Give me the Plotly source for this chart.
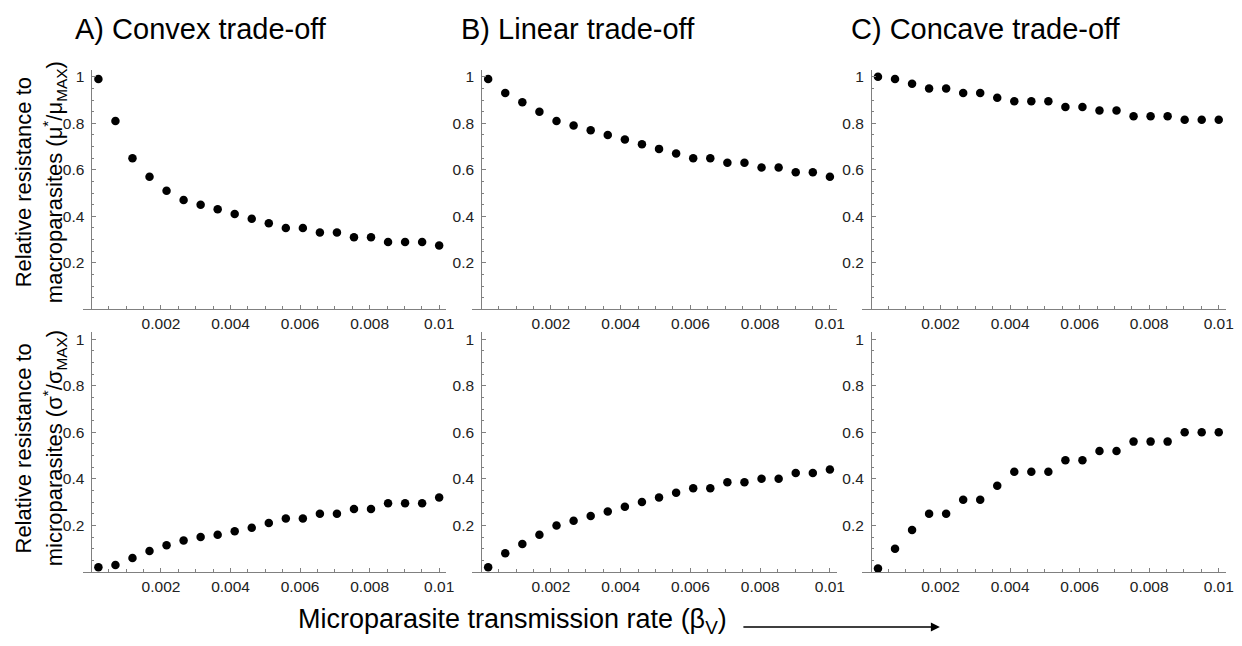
import plotly.graph_objects as go

# ---------------- data ----------------
beta_v = [0.0002, 0.00069, 0.00118, 0.00167, 0.00216, 0.00265, 0.00314, 0.00363,
          0.00412, 0.00461, 0.0051, 0.00559, 0.00608, 0.00657, 0.00706, 0.00755,
          0.00804, 0.00853, 0.00902, 0.00951, 0.01]

macro_convex = [0.99, 0.81, 0.65, 0.57, 0.51, 0.47, 0.45, 0.43, 0.41, 0.39, 0.37,
                0.35, 0.35, 0.33, 0.33, 0.31, 0.31, 0.29, 0.29, 0.29, 0.275]
macro_linear = [0.99, 0.93, 0.89, 0.85, 0.81, 0.79, 0.77, 0.75, 0.73, 0.71, 0.69,
                0.67, 0.65, 0.65, 0.63, 0.63, 0.61, 0.61, 0.59, 0.59, 0.57]
macro_concave = [1.0, 0.99, 0.97, 0.95, 0.95, 0.93, 0.93, 0.91, 0.895, 0.895, 0.895,
                 0.87, 0.87, 0.855, 0.855, 0.83, 0.83, 0.83, 0.815, 0.815, 0.815]

micro_convex = [0.02, 0.03, 0.06, 0.09, 0.115, 0.135, 0.15, 0.16, 0.175, 0.19, 0.21,
                0.23, 0.23, 0.25, 0.25, 0.27, 0.27, 0.295, 0.295, 0.295, 0.32]
micro_linear = [0.02, 0.08, 0.12, 0.16, 0.2, 0.22, 0.24, 0.26, 0.28, 0.3, 0.32,
                0.34, 0.36, 0.36, 0.385, 0.385, 0.4, 0.4, 0.425, 0.425, 0.44]
micro_concave = [0.015, 0.1, 0.18, 0.25, 0.25, 0.31, 0.31, 0.37, 0.43, 0.43, 0.43,
                 0.48, 0.48, 0.52, 0.52, 0.56, 0.56, 0.56, 0.6, 0.6, 0.6]

panel_titles = ["A) Convex trade-off", "B) Linear trade-off", "C) Concave trade-off"]
x_tick_vals = [0.002, 0.004, 0.006, 0.008, 0.01]
x_tick_text = ["0.002", "0.004", "0.006", "0.008", "0.01"]
y_tick_vals = [0.2, 0.4, 0.6, 0.8, 1.0]
y_tick_text = ["0.2", "0.4", "0.6", "0.8", "1"]

series = [macro_convex, macro_linear, macro_concave,
          micro_convex, micro_linear, micro_concave]

# ---------------- layout geometry ----------------
# page body has an 8px default margin: size the figure so it fills the window exactly
OFF = 8
W, H = 1242 - 2 * OFF, 646 - 2 * OFF


def px_x(p):
    return min(max((p - OFF) / W, 0.0), 1.0)


def px_y(p):
    return min(max(1 - (p - OFF) / H, 0.0), 1.0)


FONT = "Liberation Sans, Arial, sans-serif"
AX_COL = "#808080"
TXT_COL = "#222222"
X_RANGE = [-0.00025, 0.0102]
Y_RANGE = [0, 1.03]

# pixel position of x=0 and pixels per unit x for each column
x0_px = [92.0, 484.3, 876.7]
x_scale = [35000.0, 35100.0, 35000.0]
x_domains = [[px_x(x0 + X_RANGE[0] * s), px_x(x0 + X_RANGE[1] * s)]
             for x0, s in zip(x0_px, x_scale)]
y_axis_pos = [px_x(p) for p in x0_px]
y_domains = [[px_y(308.3), px_y(68.0)], [px_y(571.7), px_y(331.3)]]

fig = go.Figure()
layout = dict(
    width=W, height=H,
    margin=dict(l=0, r=0, t=0, b=0),
    paper_bgcolor="white", plot_bgcolor="white",
    showlegend=False,
    font=dict(family=FONT, color=TXT_COL),
)

for i, ys in enumerate(series):
    n = i + 1
    row = i // 3
    col = i % 3
    xa = "x" if n == 1 else f"x{n}"
    ya = "y" if n == 1 else f"y{n}"
    fig.add_trace(go.Scatter(
        x=beta_v, y=ys, mode="markers",
        marker=dict(color="black", size=8.5, line=dict(width=0)),
        xaxis=xa, yaxis=ya, hoverinfo="x+y", cliponaxis=False,
    ))
    layout[f"xaxis{n}"] = dict(
        domain=x_domains[col], anchor=ya, range=X_RANGE,
        showline=True, linecolor=AX_COL, linewidth=1,
        showgrid=False, zeroline=False,
        tickmode="array", tickvals=x_tick_vals, ticktext=x_tick_text,
        ticks="inside", ticklen=4, tickcolor=AX_COL, tickwidth=1,
        minor=dict(dtick=0.0005, tick0=0, ticks="inside", ticklen=3,
                   tickcolor=AX_COL, showgrid=False),
        tickfont=dict(size=15.5, color=TXT_COL, family=FONT),
        fixedrange=True,
    )
    layout[f"yaxis{n}"] = dict(
        domain=y_domains[row], anchor="free", position=y_axis_pos[col],
        range=Y_RANGE,
        showline=True, linecolor=AX_COL, linewidth=1,
        showgrid=False, zeroline=False,
        tickmode="array", tickvals=y_tick_vals, ticktext=y_tick_text,
        ticks="inside", ticklen=4, tickcolor=AX_COL, tickwidth=1,
        ticklabelstandoff=4,
        minor=dict(dtick=0.05, tick0=0, ticks="inside", ticklen=2,
                   tickcolor=AX_COL, showgrid=False),
        tickfont=dict(size=15.5, color=TXT_COL, family=FONT),
        fixedrange=True,
    )

annotations = []
title_left = [73, 462, 855]
for t, xl in zip(panel_titles, title_left):
    annotations.append(dict(
        text=t, xref="paper", yref="paper", x=px_x(xl), y=px_y(27),
        xanchor="left", yanchor="middle", showarrow=False,
        font=dict(size=29, color="black", family=FONT),
    ))

# y-axis titles (two lines each, rotated)
row_centres = [181, 448]
line1 = ["Relative resistance to", "Relative resistance to"]
line2 = ["macroparasites (μ<sup>*</sup>/μ<sub>MAX</sub>)",
         "microparasites (σ<sup>*</sup>/σ<sub>MAX</sub>)"]
for yc, l1, l2 in zip(row_centres, line1, line2):
    annotations.append(dict(
        text=l1, xref="paper", yref="paper", x=px_x(24), y=px_y(yc),
        xanchor="center", yanchor="middle", textangle=-90, showarrow=False,
        font=dict(size=22, color="black", family=FONT),
    ))
    annotations.append(dict(
        text=l2, xref="paper", yref="paper", x=px_x(55), y=px_y(yc),
        xanchor="center", yanchor="middle", textangle=-90, showarrow=False,
        font=dict(size=22, color="black", family=FONT),
    ))

# shared x-axis title with arrow
annotations.append(dict(
    text="Microparasite transmission rate (β<sub>V</sub>)",
    xref="paper", yref="paper", x=px_x(298), y=px_y(621),
    xanchor="left", yanchor="middle", showarrow=False,
    font=dict(size=27, color="black", family=FONT),
))
annotations.append(dict(
    text="", xref="paper", yref="paper", x=px_x(946), y=px_y(627),
    ax=-198, ay=0, showarrow=True, arrowhead=2, arrowsize=1.2,
    arrowwidth=1.5, arrowcolor="black",
))
layout["annotations"] = annotations

fig.update_layout(**layout)
fig.write_html("out.html")
